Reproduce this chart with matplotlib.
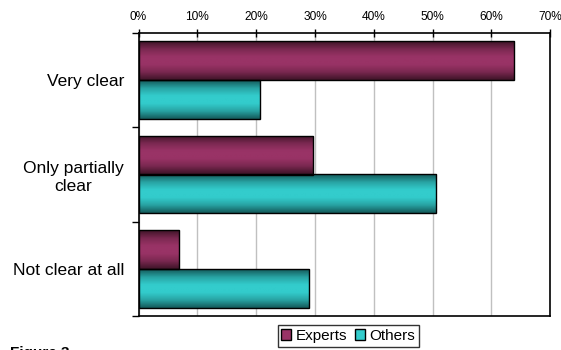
import numpy as np
import matplotlib
matplotlib.use("Agg")
import matplotlib.pyplot as plt
from matplotlib.colors import LinearSegmentedColormap
from matplotlib.ticker import FixedLocator, PercentFormatter

categories = ["Very clear", "Only partially\nclear", "Not clear at all"]
experts = [63.8, 29.6, 6.8]
others = [20.7, 50.5, 29.0]
xticks = [0, 10, 20, 30, 40, 50, 60, 70]

plt.rcParams['font.family'] = ['Liberation Sans', 'DejaVu Sans']

fig = plt.figure(figsize=(5.61, 3.5), dpi=100)
ax = fig.add_axes([138.5/561, 1-316/350, (550.3-138.5)/561, (316-33)/350])

y = np.arange(len(categories))
h = 0.41
bars_e = ax.barh(y - h/2, experts, height=h, color='#993366', edgecolor='black', linewidth=1.0, zorder=3)
bars_o = ax.barh(y + h/2, others, height=h, color='#33CCCC', edgecolor='black', linewidth=1.0, zorder=3)

cm_e = LinearSegmentedColormap.from_list('e', ['#3f1428', '#7a2850', '#993366', '#993366', '#7a2850', '#3f1428'])
cm_o = LinearSegmentedColormap.from_list('o', ['#145a5a', '#28a3a3', '#33CCCC', '#33CCCC', '#28a3a3', '#145a5a'])
grad = np.linspace(0, 1, 64).reshape(-1, 1)
for bars, cm in ((bars_e, cm_e), (bars_o, cm_o)):
    for p in bars:
        x0, y0 = p.get_x(), p.get_y()
        w, hh = p.get_width(), p.get_height()
        im = ax.imshow(grad, cmap=cm, aspect='auto', extent=[x0, x0 + w, y0 + hh, y0],
                       zorder=2.5, interpolation='bilinear')
        im.set_clip_path(p)
        p.set_facecolor('none')

ax.set_xlim(0, 70)
ax.set_ylim(2.5, -0.5)
ax.set_xticks(xticks)
ax.xaxis.set_major_formatter(PercentFormatter(decimals=0))
ax.xaxis.tick_top()
ax.tick_params(axis='x', direction='inout', length=6, width=1, labelsize=8.6, pad=4, colors='black')
ax.grid(axis='x', color='#c0c0c0', linewidth=1, zorder=1)

ax.set_yticks(y)
ax.set_yticklabels(categories, fontsize=12.5, multialignment='center', linespacing=1.25)
ax.tick_params(axis='y', which='major', length=0, pad=10.5)
ax.yaxis.set_minor_locator(FixedLocator([-0.5, 0.5, 1.5, 2.5]))
ax.tick_params(axis='y', which='minor', length=5, width=1, direction='out')

for s in ax.spines.values():
    s.set_color('black')
    s.set_linewidth(1.2)

leg = ax.legend([bars_e, bars_o], ['Experts', 'Others'], loc='upper center',
                bbox_to_anchor=(348.4/561, 1-325/350), bbox_transform=fig.transFigure,
                ncol=2, fontsize=11, frameon=True, fancybox=False, handlelength=0.65,
                handleheight=0.65, handletextpad=0.3, columnspacing=0.5, borderpad=0.25,
                borderaxespad=0)
leg.get_frame().set_edgecolor('black')
leg.get_frame().set_linewidth(1)
for hnd, c in zip(leg.legend_handles, ['#993366', '#33CCCC']):
    hnd.set_facecolor(c)
    hnd.set_edgecolor('black')

fig.text(10/561, 1-346.5/350, 'Figure 3', fontsize=11, fontweight='bold', ha='left', va='top')

fig.savefig('out.png', dpi=100)
